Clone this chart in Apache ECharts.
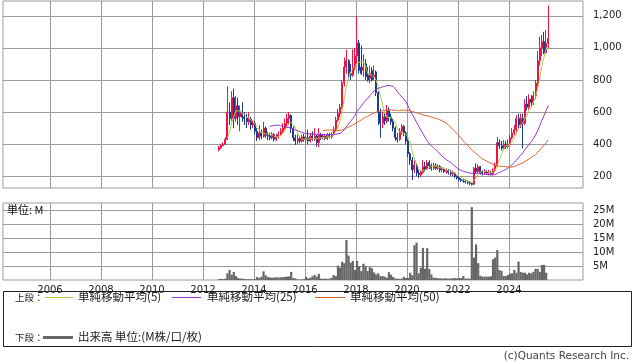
<!DOCTYPE html>
<html><head><meta charset="utf-8">
<script src="https://cdn.jsdelivr.net/npm/echarts@6/dist/echarts.min.js"></script>
<style>html,body{margin:0;padding:0;background:#fff}#c{width:638px;height:362px}</style>
</head><body><div id="c"></div>
<script>
// Monthly data starting 2012-08
const startMonth = [2012, 8];
const openP = [
365,378,392,400,430,600,560,690,560,640,570,600,570,560,540,555,520,
530,480,440,470,450,500,455,450,440,460,430,445,
460,480,500,530,560,580,500,440,420,435,420,445,
430,440,420,450,430,450,410,460,440,450,435,455,
445,460,490,550,590,630,780,880,920,840,830,880,
950,1030,880,860,900,830,810,860,820,850,720,600,
530,570,545,610,570,540,500,440,430,480,510,470,
420,340,300,240,270,220,210,225,260,245,285,265,
250,265,250,260,240,245,230,235,225,215,220,200,
190,180,175,170,165,160,155,150,250,230,260,225,
220,230,220,225,215,235,270,410,390,375,400,385,
400,440,470,490,560,520,560,530,650,630,680,660,
700,780,920,1000,1040,970,1030];
const closeP = [
378,392,400,430,600,560,690,560,640,570,600,570,560,540,555,520,530,
480,440,470,450,500,455,450,440,460,430,445,460,
480,500,530,560,580,500,440,420,435,420,445,430,
440,420,450,430,450,410,460,440,450,435,455,445,
460,490,550,590,630,780,880,920,840,830,880,950,
1030,860,840,880,820,800,840,800,830,720,600,530,
570,545,610,570,540,500,440,430,480,510,470,420,
340,300,240,270,220,210,225,260,245,285,265,250,
265,250,260,240,245,230,235,225,215,220,200,190,
180,175,170,165,160,155,150,250,230,260,225,220,
230,220,225,215,235,270,410,390,375,400,385,400,
440,470,490,560,520,560,530,650,630,680,660,700,
780,920,1000,1040,970,1030,1060];
const lowP = [
355,370,385,395,425,520,545,500,540,520,480,540,520,500,520,490,500,
460,420,425,430,440,440,425,425,430,415,420,435,
450,470,490,510,520,470,420,395,400,405,410,415,
410,400,410,420,420,385,380,425,430,425,425,435,
435,455,480,540,570,620,760,840,800,800,820,860,
900,840,830,820,800,790,780,790,800,700,520,440,
500,520,530,540,520,480,420,410,420,460,450,400,
320,270,177,220,200,190,195,215,230,240,245,235,
240,240,240,225,225,220,215,210,200,200,190,180,
170,165,160,155,150,145,142,145,215,220,210,205,
210,210,205,205,205,225,260,370,360,365,370,375,
395,430,455,470,500,500,375,520,610,615,630,645,
680,760,890,950,960,960,1000];
const highP = [
390,400,410,445,760,660,730,745,700,690,640,660,600,590,600,570,550,
545,500,520,490,540,510,475,470,475,470,465,480,
500,530,560,590,600,585,510,460,460,450,460,465,
455,490,470,480,500,460,500,470,465,460,470,470,
475,510,570,620,650,800,940,990,930,900,990,1000,
1200,1050,1015,960,930,880,890,880,890,860,730,620,
600,600,645,630,590,560,510,470,500,525,520,480,
430,350,320,300,280,240,240,302,290,300,300,280,
285,280,275,270,260,255,250,245,240,235,225,205,
200,190,185,180,175,170,165,258,280,275,265,240,
245,240,240,235,250,285,445,430,420,425,420,430,
460,500,520,580,590,590,590,680,700,710,705,730,
800,980,1070,1080,1100,1110,1264];
const volume = [
0.3,0.4,0.3,0.5,2.4,3.6,1.9,2.9,1.4,0.7,0.5,0.5,0.4,0.3,0.3,0.3,0.2,
0.3,1.1,0.7,1.2,3.1,1.7,1.1,0.9,0.8,0.9,1.0,0.9,
1.0,1.0,1.1,1.2,1.3,2.9,0.7,0.6,0.2,0.2,0.2,0.3,
1.1,0.6,0.8,1.3,1.8,1.2,2.2,0.5,0.4,0.5,0.4,0.5,
0.8,1.8,1.4,5.1,4.4,6.5,6.0,14.3,8.7,6.2,6.8,3.6,
6.8,5.0,3.2,5.8,5.0,3.2,4.6,4.2,2.7,2.0,2.4,1.4,
1.4,1.2,0.8,2.8,1.9,1.1,0.5,0.5,0.4,0.5,1.1,0.7,
0.7,2.6,1.7,12.4,13.3,2.4,4.4,11.4,4.0,11.4,3.9,2.0,
0.8,0.8,0.6,0.6,0.5,0.6,0.6,0.5,0.6,0.6,0.7,0.6,
0.7,0.7,1.4,0.5,0.5,0.5,26.0,8.0,12.7,6.0,1.5,1.2,
1.2,1.2,1.2,1.3,7.4,8.0,10.7,3.6,3.2,1.4,1.4,1.8,
2.3,2.4,3.6,2.6,6.6,2.9,2.6,2.6,2.0,2.6,2.4,2.9,
4.0,4.0,2.9,5.4,5.4,2.6];
const yearTicks = [2006,2008,2010,2012,2014,2016,2018,2020,2022,2024];
const priceTicks = [200,400,600,800,1000,1200];
const volumeTicks = [5,10,15,20,25];
const maPeriods = [5,25,50];
const maNames = ['単純移動平均(5)','単純移動平均(25)','単純移動平均(50)'];
const maColors = ['#b4cc3c','#9933cc','#e0602c'];
const upColor = '#ee1144', downColor = '#1a3c94', volColor = '#666666';

const xOf = i => startMonth[0] + (startMonth[1] - 1 + i + 0.5) / 12;
const candles = closeP.map((c, i) => [xOf(i), openP[i], c, lowP[i], highP[i]]);
const vols = volume.map((v, i) => [xOf(i), v]);
function movingAvg(n) {
  const out = [];
  for (let i = n - 1; i < closeP.length; i++) {
    let s = 0;
    for (let k = i - n + 1; k <= i; k++) s += closeP[k];
    out.push([xOf(i), s / n]);
  }
  return out;
}

const X0 = 2004.157, X1 = 2026.902;
const lbl = {fontFamily: 'DejaVu Sans', fontSize: 10, color: '#222'};
const grid = '#9a9a9a';
const jp = 'Noto Sans CJK JP';
function txt(t, x, y, extra) {
  return {type: 'text', z: 10, style: Object.assign({text: t, x: x, y: y, verticalAlign: 'middle', align: 'left',
    fontFamily: jp, fontSize: 11.5, fill: '#222'}, extra || {})};
}
function swatch(x, y, w, h, color) {
  return {type: 'rect', z: 10, shape: {x: x, y: y, width: w, height: h}, style: {fill: color, stroke: null}};
}
const chart = echarts.init(document.getElementById('c'), null, {renderer: 'canvas'});
const option = {
  animation: false,
  grid: [
    {left: 3, right: 55, top: 1, height: 187, show: true, borderColor: grid, borderWidth: 1},
    {left: 3, right: 55, top: 203, height: 77, show: true, borderColor: grid, borderWidth: 1}
  ],
  xAxis: [
    {type: 'value', gridIndex: 0, min: X0, max: X1,
     axisLine: {show: false}, axisTick: {show: false, customValues: yearTicks},
     axisLabel: {show: false, customValues: yearTicks},
     splitLine: {show: true, lineStyle: {color: grid, width: 1}}},
    {type: 'value', gridIndex: 1, min: X0, max: X1,
     axisLine: {show: false}, axisTick: {show: false, customValues: yearTicks},
     axisLabel: Object.assign({show: true, customValues: yearTicks, margin: 5, formatter: v => String(Math.round(v))}, lbl),
     splitLine: {show: true, lineStyle: {color: grid, width: 1}}}
  ],
  yAxis: [
    {type: 'value', gridIndex: 0, position: 'right', min: 127, max: 1292,
     axisLine: {show: false}, axisTick: {show: false, customValues: priceTicks},
     axisLabel: Object.assign({customValues: priceTicks, margin: 10, formatter: v => Number(v).toLocaleString('en-US')}, lbl),
     splitLine: {show: true, lineStyle: {color: grid, width: 1}}},
    {type: 'value', gridIndex: 1, position: 'right', min: 0, max: 27.5,
     axisLine: {show: false}, axisTick: {show: false, customValues: volumeTicks},
     axisLabel: Object.assign({customValues: volumeTicks, margin: 10, formatter: v => v + 'M'}, lbl),
     splitLine: {show: true, lineStyle: {color: grid, width: 1}}}
  ],
  series: [
    {type: 'candlestick', name: '株価', xAxisIndex: 0, yAxisIndex: 0, data: candles,
     encode: {x: 0, y: [1, 2, 3, 4]}, barWidth: 1.6, z: 2,
     itemStyle: {color: upColor, color0: downColor, borderColor: upColor, borderColor0: downColor, borderWidth: 1}},
  ].concat(maPeriods.map((n, k) => ({
     type: 'line', name: maNames[k], xAxisIndex: 0, yAxisIndex: 0, data: movingAvg(n),
     showSymbol: false, symbol: 'none', z: 3, lineStyle: {color: maColors[k], width: 1}
  }))).concat([
    {type: 'bar', name: '出来高', xAxisIndex: 1, yAxisIndex: 1, data: vols,
     barWidth: 2.2, itemStyle: {color: volColor}}
  ]),
  graphic: [
    txt('単位: M', 7, 209.5, {fontSize: 11, fill: '#111'}),
    {type: 'rect', z: 10, shape: {x: 3.5, y: 291.5, width: 628, height: 55}, style: {fill: 'none', stroke: '#222', lineWidth: 1}},
    txt('上段：', 15, 297, {fontSize: 9.5}),
    swatch(45, 297, 28, 1, maColors[0]),
    txt(maNames[0], 78, 297),
    swatch(172, 297, 29, 1, maColors[1]),
    txt(maNames[1], 207, 297),
    swatch(315, 297, 30, 1, maColors[2]),
    txt(maNames[2], 350, 297),
    txt('下段：', 15, 337, {fontSize: 9.5}),
    swatch(43, 336, 30, 3, volColor),
    txt('出来高 単位:(M株/口/枚)', 78, 337),
    txt('(c)Quants Research Inc.', 629, 356, {align: 'right', fontFamily: 'DejaVu Sans', fontSize: 10.5, fill: '#444'})
  ]
};
chart.setOption(option);
</script>
</body></html>
